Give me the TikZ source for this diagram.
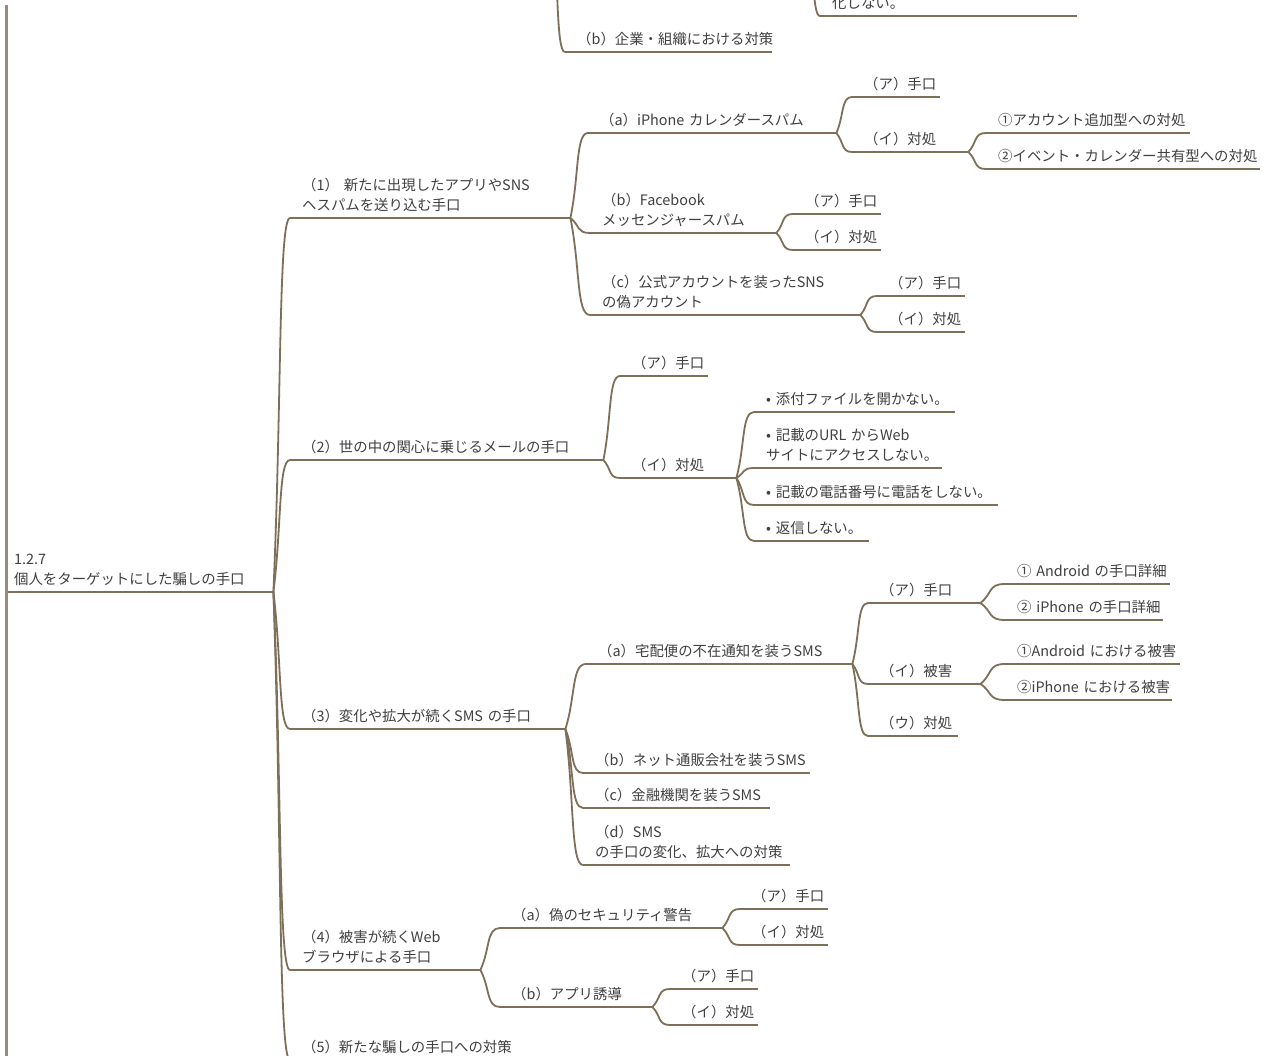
\documentclass[tikz,border=0pt]{standalone}
\usepackage{fontspec}
\setmainfont{Noto Sans CJK JP}
\usepackage{tikz}
\usetikzlibrary{calc}
\definecolor{MapLine}{RGB}{125,111,88}
\definecolor{MapInk}{RGB}{64,64,64}
\newcommand\mapfont{\fontsize{14.4}{20}\selectfont}
\hfuzz=200pt \hbadness=10000
\hyphenpenalty=10000 \lefthyphenmin=62
\begin{document}
\begin{tikzpicture}[x=1pt,y=-1pt,
    uline/.style={draw=MapLine,line width=1.8pt},
    topic/.style={anchor=south west,inner xsep=12pt,inner ysep=1.5pt,
                  align=left,text width=#1,font=\mapfont,text=MapInk,
                  execute at end node={\strut},
                  append after command={(\tikzlastnode.south west) edge[uline] (\tikzlastnode.south east)}},
    rtopic/.style={topic=#1,inner xsep=6pt},
    branch/.style={draw=MapLine,line width=1.8pt},
    fork/.style={to path={.. controls ($(\tikztostart)!0.5!(\tikztotarget)$)
                 and ($(\tikztostart |- \tikztotarget)!0.3!(\tikztotarget)$) .. (\tikztotarget)}},
    spine/.style={draw=MapLine!80,line width=3pt}
  ]
  \useasboundingbox (0,0) rectangle (1264,1056);
  \fill[white] (0,0) rectangle (1264,1056);
  \clip (0,0) rectangle (1264,1056);
  % upper section, cut off by the top edge
  \coordinate (up1) at (552,-100);
  \coordinate (up2) at (808,-100);
  \node[topic=183pt] (t1) at (565,52) {（b）企業・組織における対策};
  \node[topic=233pt] (t2) at (820,16) {化しない。};
  \draw[branch] (up1) to[fork] (t1.south west);
  \draw[branch] (up2) to[fork] (t2.south west);
  % left spine
  \coordinate (lt) at (6,5);
  \coordinate (lb) at (6,1100);
  \draw[spine] (lt) -- (lb);
  % root
  \node[rtopic=253pt] (root) at (8,592) {1.2.7\\個人をターゲットにした騙しの手口};
  % first level
  \node[topic=256pt] (s1) at (290,218) {（1）~新たに出現したアプリやSNS\\ヘスパムを送り込む手口};
  \node[topic=289pt] (s2) at (290,460) {（2）世の中の関心に乗じるメールの手口};
  \node[topic=251pt] (s3) at (290,729) {（3）変化や拡大が続くSMS~の手口};
  \node[topic=166pt] (s4) at (290,970) {（4）被害が続くWeb\\ブラウザによる手口};
  \node[topic=226pt] (s5) at (290,1060) {（5）新たな騙しの手口への対策};
  \draw[branch] (root.south east) to[fork] (s1.south west);
  \draw[branch] (root.south east) to[fork] (s2.south west);
  \draw[branch] (root.south east) to[fork] (s3.south west);
  \draw[branch] (root.south east) to[fork] (s4.south west);
  \draw[branch] (root.south east) to[fork] (s5.south west);
  % (1)
  \node[topic=224pt] (s1a) at (588,133) {（a）iPhone~カレンダースパム};
  \node[topic=162pt] (s1b) at (590,233) {（b）Facebook\\メッセンジャースパム};
  \node[topic=246pt] (s1c) at (590,315) {（c）公式アカウントを装ったSNS\\の偽アカウント};
  \draw[branch] (s1.south east) to[fork] (s1a.south west);
  \draw[branch] (s1.south east) to[fork] (s1b.south west);
  \draw[branch] (s1.south east) to[fork] (s1c.south west);
  \node[topic=64pt] (s1a1) at (852,97) {（ア）手口};
  \node[topic=92pt] (s1a2) at (852,152) {（イ）対処};
  \draw[branch] (s1a.south east) to[fork] (s1a1.south west);
  \draw[branch] (s1a.south east) to[fork] (s1a2.south west);
  \node[topic=180pt] (s1a2a) at (986,133) {①アカウント追加型への対処};
  \node[topic=250pt] (s1a2b) at (986,169) {②イベント・カレンダー共有型への対処};
  \draw[branch] (s1a2.south east) to[fork] (s1a2a.south west);
  \draw[branch] (s1a2.south east) to[fork] (s1a2b.south west);
  \node[topic=64pt] (s1b1) at (793,214) {（ア）手口};
  \node[topic=64pt] (s1b2) at (793,250) {（イ）対処};
  \draw[branch] (s1b.south east) to[fork] (s1b1.south west);
  \draw[branch] (s1b.south east) to[fork] (s1b2.south west);
  \node[topic=64pt] (s1c1) at (877,296) {（ア）手口};
  \node[topic=64pt] (s1c2) at (877,332) {（イ）対処};
  \draw[branch] (s1c.south east) to[fork] (s1c1.south west);
  \draw[branch] (s1c.south east) to[fork] (s1c2.south west);
  % (2)
  \node[topic=64pt] (s2a) at (620,376) {（ア）手口};
  \node[topic=92pt] (s2b) at (620,478) {（イ）対処};
  \draw[branch] (s2.south east) to[fork] (s2a.south west);
  \draw[branch] (s2.south east) to[fork] (s2b.south west);
  \node[topic=177pt] (s2b1) at (754,412) {•~添付ファイルを開かない。};
  \node[topic=164pt] (s2b2) at (754,468) {•~記載のURL~からWeb\\サイトにアクセスしない。};
  \node[topic=220pt] (s2b3) at (754,505) {•~記載の電話番号に電話をしない。};
  \node[topic=91pt] (s2b4) at (754,541) {•~返信しない。};
  \draw[branch] (s2b.south east) to[fork] (s2b1.south west);
  \draw[branch] (s2b.south east) to[fork] (s2b2.south west);
  \draw[branch] (s2b.south east) to[fork] (s2b3.south west);
  \draw[branch] (s2b.south east) to[fork] (s2b4.south west);
  % (3)
  \node[topic=242pt] (s3a) at (586,664) {（a）宅配便の不在通知を装うSMS};
  \node[topic=203pt] (s3b) at (583,773) {（b）ネット通販会社を装うSMS};
  \node[topic=163pt] (s3c) at (583,808) {（c）金融機関を装うSMS};
  \node[topic=183pt] (s3d) at (583,865) {（d）SMS\\の手口の変化、拡大への対策};
  \draw[branch] (s3.south east) to[fork] (s3a.south west);
  \draw[branch] (s3.south east) to[fork] (s3b.south west);
  \draw[branch] (s3.south east) to[fork] (s3c.south west);
  \draw[branch] (s3.south east) to[fork] (s3d.south west);
  \node[topic=88pt] (s3a1) at (868,603) {（ア）手口};
  \node[topic=88pt] (s3a2) at (868,684) {（イ）被害};
  \node[topic=66pt] (s3a3) at (868,736) {（ウ）対処};
  \draw[branch] (s3a.south east) to[fork] (s3a1.south west);
  \draw[branch] (s3a.south east) to[fork] (s3a2.south west);
  \draw[branch] (s3a.south east) to[fork] (s3a3.south west);
  \node[topic=141pt] (s3a1a) at (1005,584) {①~Android~の手口詳細};
  \node[topic=134pt] (s3a1b) at (1005,620) {②~iPhone~の手口詳細};
  \draw[branch] (s3a1.south east) to[fork] (s3a1a.south west);
  \draw[branch] (s3a1.south east) to[fork] (s3a1b.south west);
  \node[topic=151pt] (s3a2a) at (1005,664) {①Android~における被害};
  \node[topic=143pt] (s3a2b) at (1005,700) {②iPhone~における被害};
  \draw[branch] (s3a2.south east) to[fork] (s3a2a.south west);
  \draw[branch] (s3a2.south east) to[fork] (s3a2b.south west);
  % (4)
  \node[topic=198pt] (s4a) at (500,928) {（a）偽のセキュリティ警告};
  \node[topic=128pt] (s4b) at (500,1007) {（b）アプリ誘導};
  \draw[branch] (s4.south east) to[fork] (s4a.south west);
  \draw[branch] (s4.south east) to[fork] (s4b.south west);
  \node[topic=64pt] (s4a1) at (740,909) {（ア）手口};
  \node[topic=64pt] (s4a2) at (740,945) {（イ）対処};
  \draw[branch] (s4a.south east) to[fork] (s4a1.south west);
  \draw[branch] (s4a.south east) to[fork] (s4a2.south west);
  \node[topic=64pt] (s4b1) at (670,989) {（ア）手口};
  \node[topic=64pt] (s4b2) at (670,1025) {（イ）対処};
  \draw[branch] (s4b.south east) to[fork] (s4b1.south west);
  \draw[branch] (s4b.south east) to[fork] (s4b2.south west);
\end{tikzpicture}
\end{document}
